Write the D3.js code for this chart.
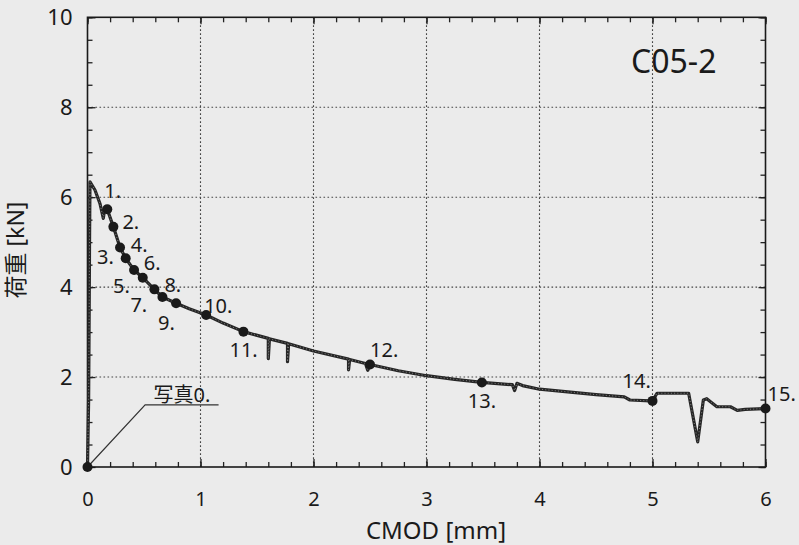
<!DOCTYPE html>
<html>
<head>
<meta charset="utf-8">
<script src="https://cdn.jsdelivr.net/npm/d3@7"></script>
<style>
  html, body { margin: 0; padding: 0; background: #ebebeb; }
  svg { display: block; }
  text { font-family: "Noto Sans", "Noto Sans CJK JP", sans-serif; fill: #1a1a1a; }
</style>
</head>
<body>
<svg id="chart" width="799" height="545"></svg>
<script>
// ---- data ----
const curveX = [0, 0.01, 0.015, 0.018, 0.022, 0.066, 0.11, 0.14, 0.155, 0.175, 0.229, 0.288, 0.338, 0.412, 0.489, 0.592, 0.663, 0.784, 0.9, 1.05, 1.2, 1.38, 1.6, 1.6, 1.61, 1.77, 1.77, 1.78, 2.0, 2.31, 2.31, 2.32, 2.46, 2.48, 2.5, 2.75, 3.0, 3.25, 3.49, 3.76, 3.78, 3.8, 3.85, 4.0, 4.25, 4.5, 4.75, 4.8, 4.98, 5.0, 5.04, 5.32, 5.40, 5.45, 5.48, 5.53, 5.57, 5.69, 5.75, 5.82, 6.0];
const curveY = [0, 1.5, 3.5, 5.0, 6.34, 6.16, 5.86, 5.53, 5.78, 5.73, 5.34, 4.88, 4.64, 4.38, 4.21, 3.95, 3.78, 3.64, 3.52, 3.38, 3.2, 3.01, 2.86, 2.41, 2.85, 2.75, 2.34, 2.74, 2.58, 2.4, 2.16, 2.39, 2.3, 2.15, 2.28, 2.14, 2.03, 1.95, 1.88, 1.83, 1.7, 1.86, 1.81, 1.73, 1.67, 1.61, 1.56, 1.49, 1.47, 1.47, 1.64, 1.64, 0.56, 1.49, 1.52, 1.42, 1.34, 1.34, 1.26, 1.28, 1.30];

const markerLabels = ["写真0.", "1.", "2.", "3.", "4.", "5.", "6.", "7.", "8.", "9.", "10.", "11.", "12.", "13.", "14.", "15."];
const markerX = [0, 0.175, 0.229, 0.288, 0.338, 0.412, 0.489, 0.592, 0.663, 0.784, 1.05, 1.38, 2.5, 3.49, 5.0, 6.0];
const markerY = [0, 5.73, 5.34, 4.88, 4.64, 4.38, 4.21, 3.95, 3.78, 3.64, 3.38, 3.01, 2.28, 1.88, 1.47, 1.30];

const xTicks = [0, 1, 2, 3, 4, 5, 6];
const yTicks = [0, 2, 4, 6, 8, 10];
const xTitle = "CMOD [mm]";
const yTitle = "荷重 [kN]";
const specimen = "C05-2";

// leader line for photo-0 label (data coords)
const leaderX = [0, 0.51, 1.16];
const leaderY = [0, 1.38, 1.38];

// ---- layout ----
const L = 87.5, R = 765.5, T = 17.3, B = 467;
// label offsets in px relative to marker
const labelDX = [66, -3, 9, -23, 5, -21, 1, -24, 2, -18, -2, -14, 0, -14, -30, 2];
const labelDY = [-65, -11, 2, 16, -6, 23, -8, 23, -5, 27, -2, 25, -7, 26, -13, -8];

const svg = d3.select("#chart");
svg.append("rect").attr("width", 799).attr("height", 545).attr("fill", "#ebebeb");

const x = d3.scaleLinear().domain([0, 6]).range([L, R]);
const y = d3.scaleLinear().domain([0, 10]).range([B, T]);

// grid
const gridColor = "#444";
svg.append("g").selectAll("line").data(xTicks.slice(1, -1)).join("line")
  .attr("x1", d => x(d)).attr("x2", d => x(d)).attr("y1", T).attr("y2", B)
  .attr("stroke", gridColor).attr("stroke-width", 1.1).attr("stroke-dasharray", "1.6,2.4");
svg.append("g").selectAll("line").data(yTicks.slice(1, -1)).join("line")
  .attr("y1", d => y(d)).attr("y2", d => y(d)).attr("x1", L).attr("x2", R)
  .attr("stroke", gridColor).attr("stroke-width", 1.1).attr("stroke-dasharray", "1.6,2.4");

// minor tick values
const xMinor = d3.range(0, 6.001, 0.2).map(v => +v.toFixed(2));
const yMinor = d3.range(0, 10.001, 0.5).map(v => +v.toFixed(2));

function styleAxis(g) {
  g.select(".domain").remove();
  g.selectAll(".tick line").attr("stroke", "#222").attr("stroke-width", 1.3);
}

// bottom
svg.append("g").attr("transform", `translate(0,${B})`)
  .call(d3.axisBottom(x).tickValues(xMinor).tickSize(-5).tickFormat(""))
  .call(styleAxis);
const gx = svg.append("g").attr("transform", `translate(0,${B})`)
  .call(d3.axisBottom(x).tickValues(xTicks).tickSize(-8).tickPadding(25).tickFormat(d3.format("d")))
  .call(styleAxis);
gx.selectAll("text").attr("font-size", 20).attr("fill", "#1a1a1a").style("font-family", "'Noto Sans', sans-serif");
// top
svg.append("g").attr("transform", `translate(0,${T})`)
  .call(d3.axisTop(x).tickValues(xMinor).tickSize(-5).tickFormat(""))
  .call(styleAxis);
svg.append("g").attr("transform", `translate(0,${T})`)
  .call(d3.axisTop(x).tickValues(xTicks).tickSize(-7).tickFormat(""))
  .call(styleAxis);
// left
svg.append("g").attr("transform", `translate(${L},0)`)
  .call(d3.axisLeft(y).tickValues(yMinor).tickSize(-5).tickFormat(""))
  .call(styleAxis);
const gy = svg.append("g").attr("transform", `translate(${L},0)`)
  .call(d3.axisLeft(y).tickValues(yTicks).tickSize(-8).tickPadding(15).tickFormat(d3.format("d")))
  .call(styleAxis);
gy.selectAll("text").attr("font-size", 22).attr("fill", "#1a1a1a").style("font-family", "'Noto Sans', sans-serif");
// right
svg.append("g").attr("transform", `translate(${R},0)`)
  .call(d3.axisRight(y).tickValues(yMinor).tickSize(-5).tickFormat(""))
  .call(styleAxis);
svg.append("g").attr("transform", `translate(${R},0)`)
  .call(d3.axisRight(y).tickValues(yTicks).tickSize(-7).tickFormat(""))
  .call(styleAxis);

// frame
svg.append("rect").attr("x", L).attr("y", T).attr("width", R - L).attr("height", B - T)
  .attr("fill", "none").attr("stroke", "#1a1a1a").attr("stroke-width", 1.6);

// leader line
const leader = leaderX.map((v, i) => [v, leaderY[i]]);
svg.append("path").datum(leader)
  .attr("d", d3.line().x(d => x(d[0])).y(d => y(d[1])))
  .attr("fill", "none").attr("stroke", "#333").attr("stroke-width", 1.2);

// curve
const pts = curveX.map((v, i) => [v, curveY[i]]);
const lineGen = d3.line().x(d => x(d[0])).y(d => y(d[1]));
svg.append("path").datum(pts).attr("d", lineGen)
  .attr("fill", "none").attr("stroke", "#262626").attr("stroke-width", 3.2)
  .attr("stroke-linejoin", "round");
svg.append("path").datum(pts).attr("d", lineGen)
  .attr("fill", "none").attr("stroke", "#8a8a8a").attr("stroke-width", 0.9)
  .attr("stroke-dasharray", "1,2.2");

// markers
const marks = markerX.map((v, i) => ({x: v, y: markerY[i], label: markerLabels[i], dx: labelDX[i], dy: labelDY[i]}));
svg.append("g").selectAll("circle").data(marks).join("circle")
  .attr("cx", d => x(d.x)).attr("cy", d => y(d.y)).attr("r", 5).attr("fill", "#1a1a1a");
svg.append("g").selectAll("text").data(marks).join("text")
  .attr("x", d => x(d.x) + d.dx).attr("y", d => y(d.y) + d.dy)
  .attr("font-size", 20).text(d => d.label);

// specimen label
svg.append("text").attr("x", 631).attr("y", 73).attr("font-size", 32).text(specimen);

// axis titles
svg.append("text").attr("x", 436).attr("y", 539).attr("text-anchor", "middle")
  .attr("font-size", 24).text(xTitle);
svg.append("text").attr("transform", "translate(24,250) rotate(-90)").attr("text-anchor", "middle")
  .attr("font-size", 23).text(yTitle);
</script>
</body>
</html>
